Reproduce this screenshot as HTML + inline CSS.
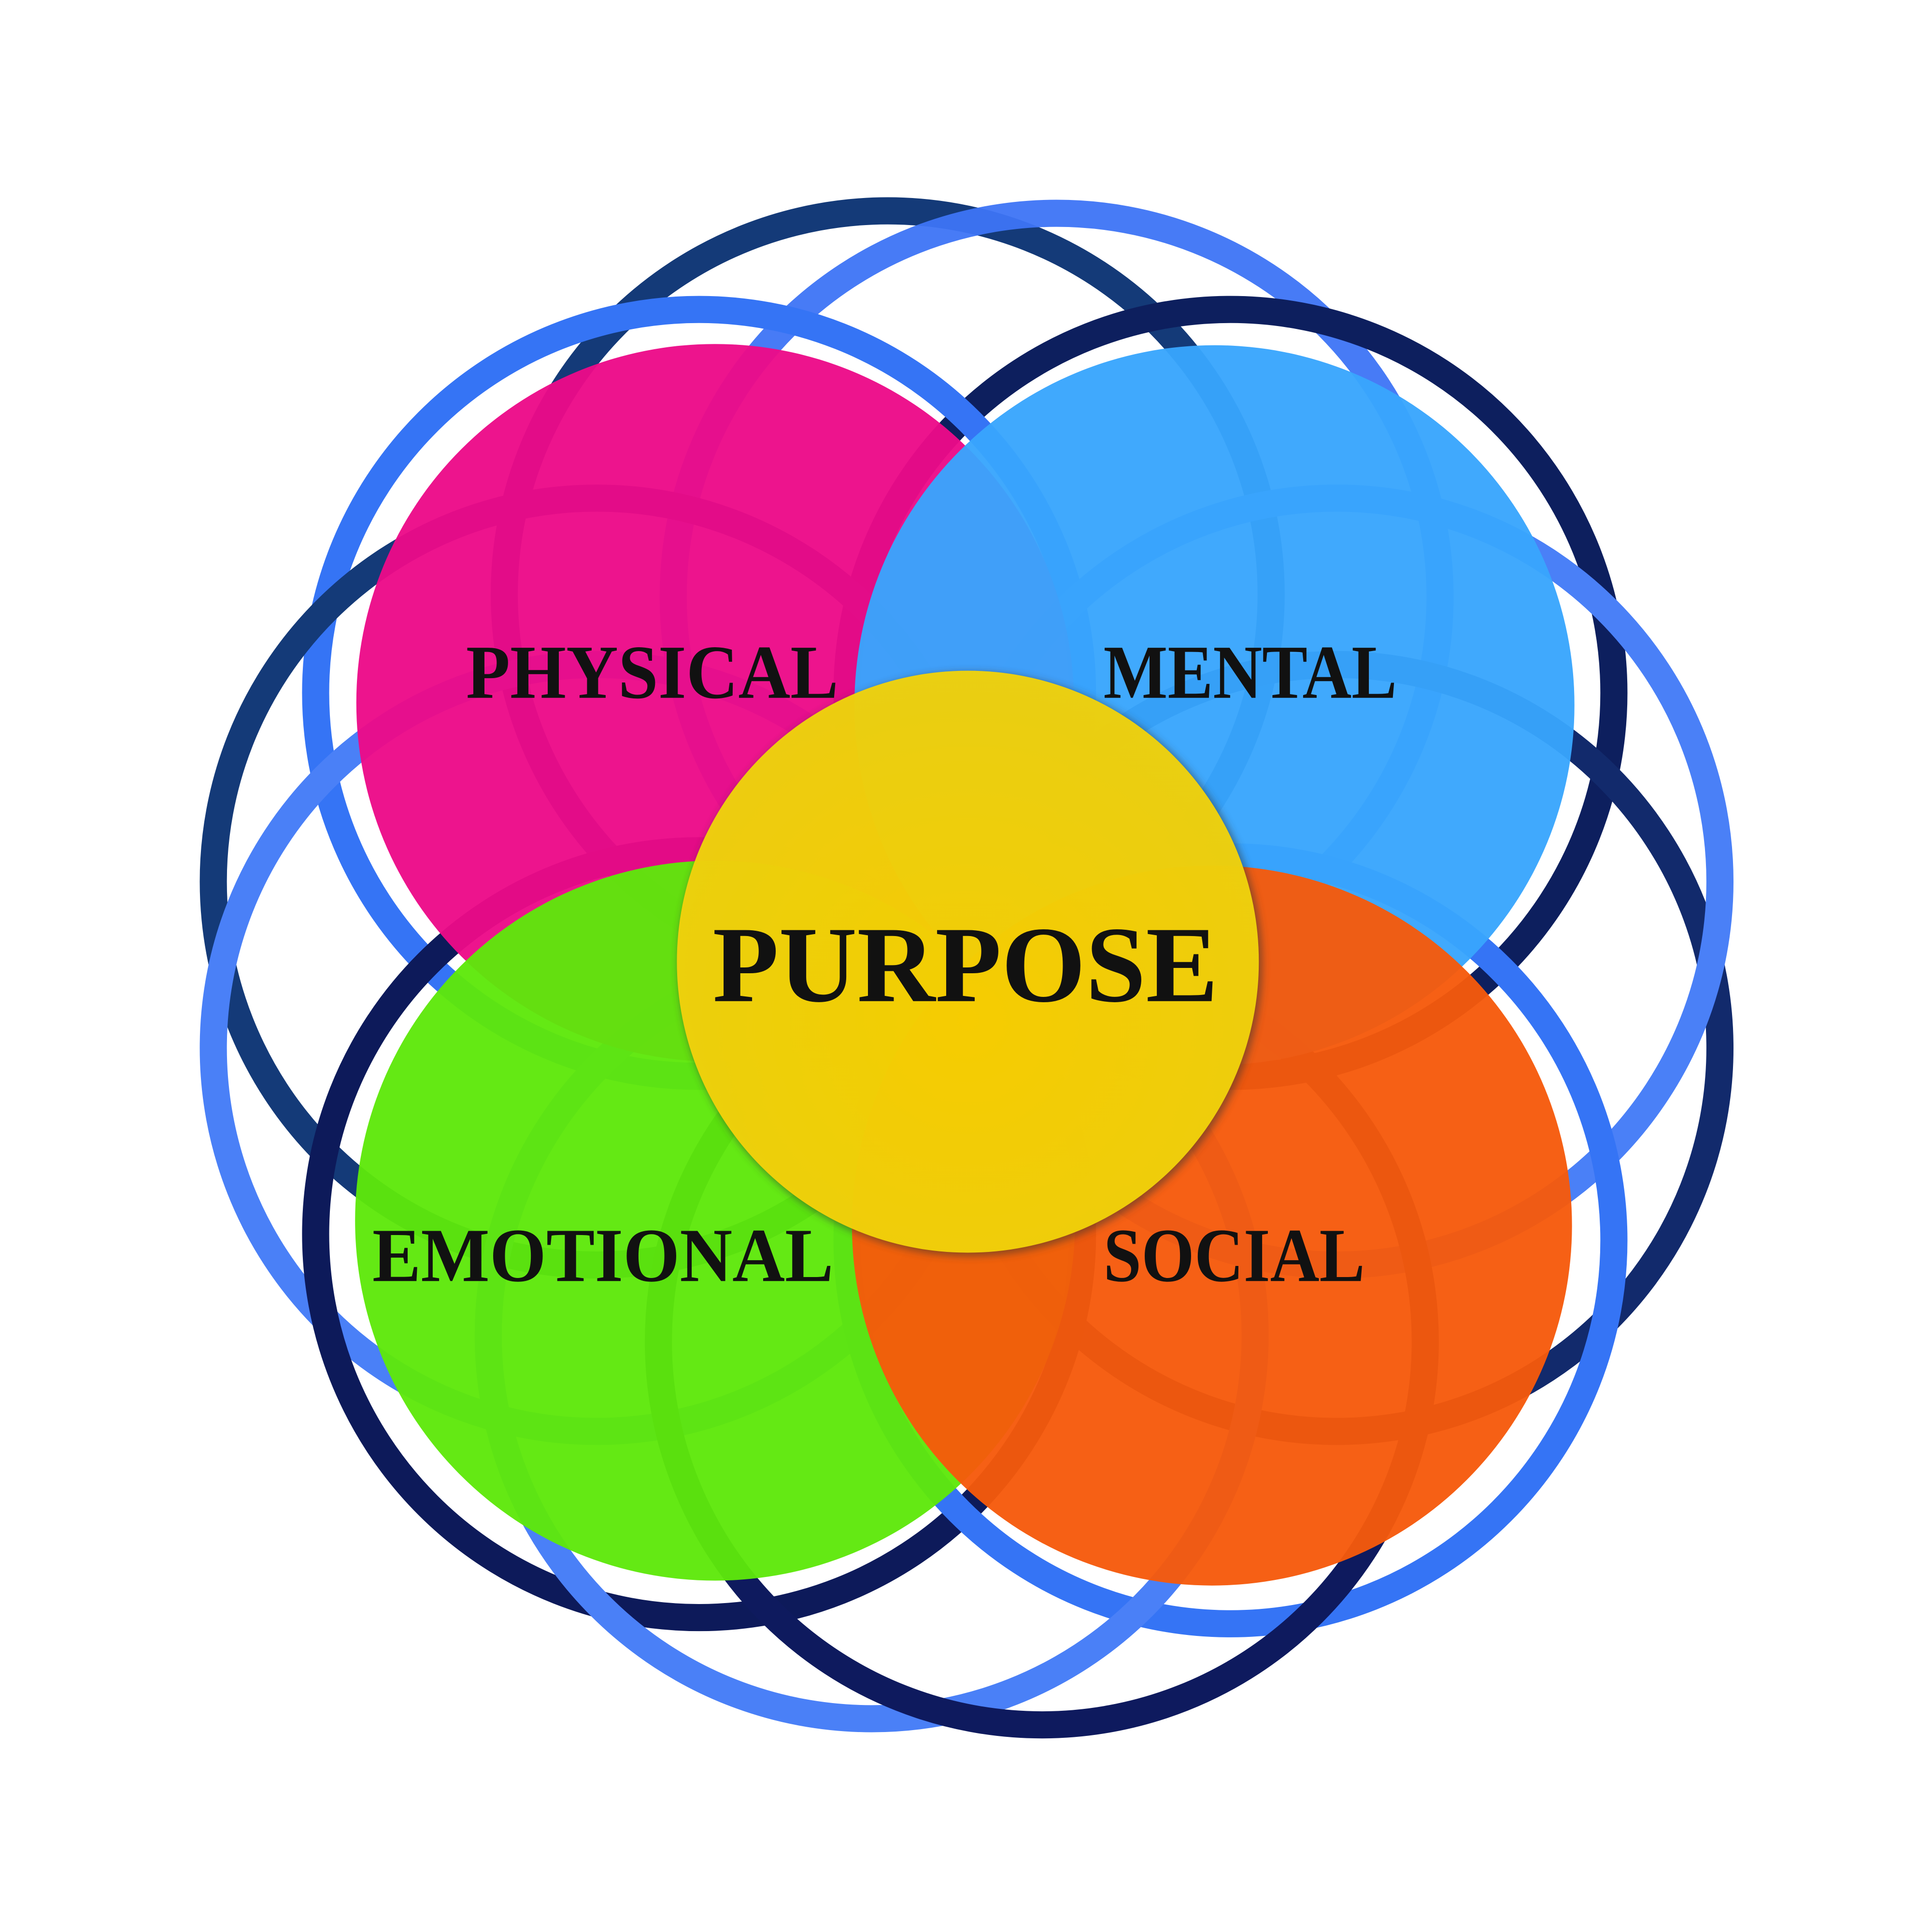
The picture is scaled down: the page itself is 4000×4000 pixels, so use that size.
<!DOCTYPE html>
<html><head><style>html,body{margin:0;padding:0;background:#fff}svg{display:block}</style></head>
<body>
<svg width="4000" height="4000" viewBox="0 0 1567 1567" xmlns="http://www.w3.org/2000/svg">
<defs>
<radialGradient id="yg" cx="0.5" cy="0.6" r="0.6">
<stop offset="0" stop-color="#f9d000"/><stop offset="1" stop-color="#efd20e"/>
</radialGradient>
<filter id="sh" x="-10%" y="-10%" width="120%" height="120%"><feGaussianBlur stdDeviation="3"/></filter>
</defs>
<rect width="1567" height="1567" fill="#fff"/>
<g fill="none" stroke-width="22">
<circle cx="720" cy="482" r="311" stroke="#143a78"/>
<circle cx="857" cy="484" r="311" stroke="#3d74f6" stroke-opacity="0.95"/>
<circle cx="998" cy="562" r="311" stroke="#0d1f5e"/>
<circle cx="567" cy="562" r="311" stroke="#3574f5"/>
<circle cx="484" cy="715" r="311" stroke="#143a78"/>
<circle cx="484" cy="850" r="311" stroke="#4a80f7"/>
<circle cx="1084" cy="850" r="311" stroke="#122a6c"/>
<circle cx="1084" cy="715" r="311" stroke="#4a80f7"/>
<circle cx="567" cy="1001" r="311" stroke="#0d1a5a"/>
<circle cx="998" cy="1006" r="311" stroke="#3574f5"/>
<circle cx="707" cy="1083" r="311" stroke="#4a80f7"/>
<circle cx="845" cy="1088" r="311" stroke="#0e1a5e"/>
</g>
<g fill-opacity="0.96">
<circle cx="580" cy="570" r="291" fill="#ec0a88"/>
<circle cx="985" cy="572" r="292" fill="#38a5fd"/>
<circle cx="580" cy="990" r="292" fill="#5ee80a"/>
<circle cx="983" cy="994" r="292" fill="#f65a0b"/>
</g>
<circle cx="787" cy="782" r="237" fill="#333" opacity="0.5" filter="url(#sh)"/>
<circle cx="785" cy="780" r="236" fill="url(#yg)" fill-opacity="0.97"/>
<g font-family="'Liberation Serif', serif" font-weight="bold" fill="#111">
<text x="378" y="566" font-size="62" textLength="302" lengthAdjust="spacingAndGlyphs">PHYSICAL</text>
<text x="895" y="566" font-size="62" textLength="238" lengthAdjust="spacingAndGlyphs">MENTAL</text>
<text x="302" y="1039" font-size="62" textLength="374" lengthAdjust="spacingAndGlyphs">EMOTIONAL</text>
<text x="895" y="1039" font-size="62" textLength="212" lengthAdjust="spacingAndGlyphs">SOCIAL</text>
<text x="578" y="812" font-size="88" textLength="410" lengthAdjust="spacingAndGlyphs">PURPOSE</text>
</g>
</svg>
</body></html>
